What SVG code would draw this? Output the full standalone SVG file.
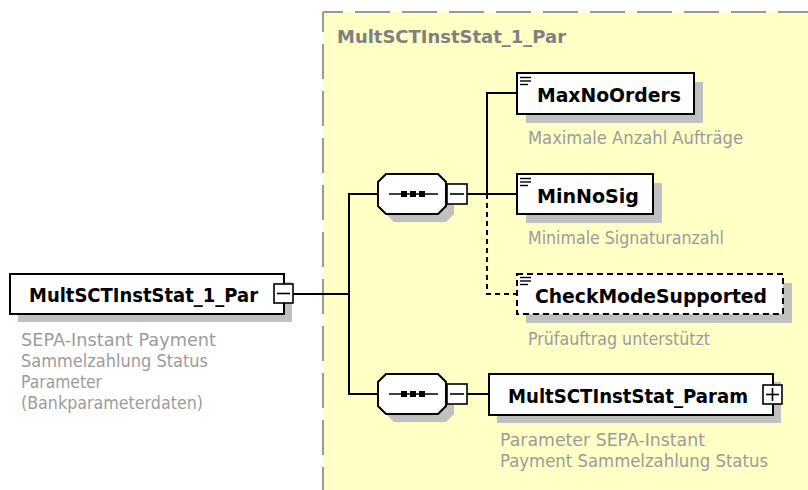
<svg xmlns="http://www.w3.org/2000/svg" width="808" height="490" viewBox="0 0 808 490">
<style>
.bg{fill:#ffffff}
.grp{fill:#ffffc6;stroke:none}
.grpb{stroke:#999999;stroke-width:2;stroke-dasharray:35 12;stroke-dashoffset:15;fill:none}
.shadow{fill:#c0c0c0;stroke:none}
.box{fill:#ffffff;stroke:#000000;stroke-width:2}
.optbox{fill:#ffffff;stroke:#000000;stroke-width:2;stroke-dasharray:6 4}
.sq{fill:#ffffff;stroke:#000000;stroke-width:1.6}
.ln{stroke:#000000;stroke-width:2;fill:none}
.dash{stroke:#000000;stroke-width:2;fill:none;stroke-dasharray:5 4}
.thin{stroke:#000000;stroke-width:1.6;fill:none}
.dot{fill:#000000}
.name{font-family:"DejaVu Sans","Liberation Sans",sans-serif;font-weight:bold;font-size:19.5px;fill:#000000}
.gtitle{font-family:"DejaVu Sans","Liberation Sans",sans-serif;font-weight:bold;font-size:18.5px;fill:#808080}
.desc{font-family:"DejaVu Sans","Liberation Sans",sans-serif;font-size:16.8px;fill:#9b9b9b}
.icon{stroke:#000000;stroke-width:1.4}
</style>
<rect class="bg" x="0" y="0" width="808" height="490"/>

<g id="group-MultSCTInstStat_1_Par">
  <rect class="grp" x="323" y="12" width="490" height="480"/>
  <line class="grpb" x1="323" y1="12" x2="323" y2="492"/>
  <line class="grpb" x1="323" y1="12" x2="810" y2="12"/>
  <text class="gtitle" x="337" y="43" textLength="229" lengthAdjust="spacingAndGlyphs">MultSCTInstStat_1_Par</text>
</g>

<g id="connectors">
  <line class="ln" x1="293" y1="294" x2="349" y2="294"/>
  <polyline class="ln" points="378,194 349,194 349,394 378,394"/>
  <line class="ln" x1="467" y1="194" x2="517" y2="194"/>
  <polyline class="ln" points="517,93 487,93 487,194"/>
  <polyline class="dash" points="487,194 487,294 517,294"/>
  <line class="ln" x1="467" y1="394" x2="489" y2="394"/>
</g>

<g id="node-root">
  <rect class="shadow" x="18" y="282" width="274" height="40"/>
  <rect class="box" x="10" y="274" width="274" height="40"/>
  <text class="name" x="29" y="302" textLength="229" lengthAdjust="spacingAndGlyphs">MultSCTInstStat_1_Par</text>
  <rect class="sq" x="274" y="284" width="19" height="19"/>
  <line class="thin" x1="277" y1="293.5" x2="290" y2="293.5"/>
  <text class="desc" x="21" y="346" textLength="195" lengthAdjust="spacingAndGlyphs">SEPA-Instant Payment</text>
  <text class="desc" x="21" y="367" textLength="187" lengthAdjust="spacingAndGlyphs">Sammelzahlung Status</text>
  <text class="desc" x="21" y="388" textLength="81" lengthAdjust="spacingAndGlyphs">Parameter</text>
  <text class="desc" x="21" y="409" textLength="182" lengthAdjust="spacingAndGlyphs">(Bankparameterdaten)</text>
</g>

<g id="node-seq1">
  <polygon class="shadow" points="394,182 446,182 454,190 454,214 446,222 394,222 386,214 386,190"/>
  <polygon class="box" points="386,174 438,174 446,182 446,206 438,214 386,214 378,206 378,182"/>
  <line class="thin" x1="389" y1="194" x2="438" y2="194"/>
  <rect class="dot" x="401" y="191" width="6" height="6"/>
  <rect class="dot" x="410" y="191" width="6" height="6"/>
  <rect class="dot" x="419" y="191" width="6" height="6"/>
  <rect class="sq" x="447" y="184" width="20" height="20"/>
  <line class="thin" x1="450" y1="194" x2="464" y2="194"/>
</g>

<g id="node-MaxNoOrders">
  <rect class="shadow" x="526" y="82" width="177" height="41"/>
  <rect class="box" x="517" y="73" width="177" height="41"/>
  <line class="icon" x1="520" y1="77.5" x2="531" y2="77.5"/>
  <line class="icon" x1="520" y1="81" x2="531" y2="81"/>
  <line class="icon" x1="520" y1="84.5" x2="528" y2="84.5"/>
  <text class="name" x="537" y="102" textLength="144" lengthAdjust="spacingAndGlyphs">MaxNoOrders</text>
  <text class="desc" x="528" y="144" textLength="215" lengthAdjust="spacingAndGlyphs">Maximale Anzahl Aufträge</text>
</g>

<g id="node-MinNoSig">
  <rect class="shadow" x="526" y="183" width="136" height="40"/>
  <rect class="box" x="517" y="174" width="136" height="40"/>
  <line class="icon" x1="520" y1="178.5" x2="531" y2="178.5"/>
  <line class="icon" x1="520" y1="182" x2="531" y2="182"/>
  <line class="icon" x1="520" y1="185.5" x2="528" y2="185.5"/>
  <text class="name" x="537" y="203" textLength="102" lengthAdjust="spacingAndGlyphs">MinNoSig</text>
  <text class="desc" x="528" y="244" textLength="196" lengthAdjust="spacingAndGlyphs">Minimale Signaturanzahl</text>
</g>

<g id="node-CheckModeSupported">
  <rect class="shadow" x="526" y="283" width="266" height="40"/>
  <rect class="optbox" x="517" y="274" width="266" height="40"/>
  <line class="icon" x1="520" y1="277.5" x2="531" y2="277.5"/>
  <line class="icon" x1="520" y1="281" x2="531" y2="281"/>
  <line class="icon" x1="520" y1="284.5" x2="528" y2="284.5"/>
  <text class="name" x="535" y="303" textLength="232" lengthAdjust="spacingAndGlyphs">CheckModeSupported</text>
  <text class="desc" x="528" y="345" textLength="182" lengthAdjust="spacingAndGlyphs">Prüfauftrag unterstützt</text>
</g>

<g id="node-seq2">
  <polygon class="shadow" points="394,382 446,382 454,390 454,414 446,422 394,422 386,414 386,390"/>
  <polygon class="box" points="386,374 438,374 446,382 446,406 438,414 386,414 378,406 378,382"/>
  <line class="thin" x1="389" y1="394" x2="438" y2="394"/>
  <rect class="dot" x="401" y="391" width="6" height="6"/>
  <rect class="dot" x="410" y="391" width="6" height="6"/>
  <rect class="dot" x="419" y="391" width="6" height="6"/>
  <rect class="sq" x="447" y="384" width="20" height="20"/>
  <line class="thin" x1="450" y1="394" x2="464" y2="394"/>
</g>

<g id="node-MultSCTInstStat_Param">
  <rect class="shadow" x="497" y="382" width="284" height="41"/>
  <rect class="box" x="489" y="374" width="284" height="41"/>
  <text class="name" x="508" y="403" textLength="240" lengthAdjust="spacingAndGlyphs">MultSCTInstStat_Param</text>
  <rect class="sq" x="763" y="385" width="19" height="19"/>
  <line class="thin" x1="766" y1="394.5" x2="779" y2="394.5"/>
  <line class="thin" x1="772.5" y1="388" x2="772.5" y2="401"/>
  <text class="desc" x="500" y="446" textLength="205" lengthAdjust="spacingAndGlyphs">Parameter SEPA-Instant</text>
  <text class="desc" x="500" y="467" textLength="268" lengthAdjust="spacingAndGlyphs">Payment Sammelzahlung Status</text>
</g>
</svg>
